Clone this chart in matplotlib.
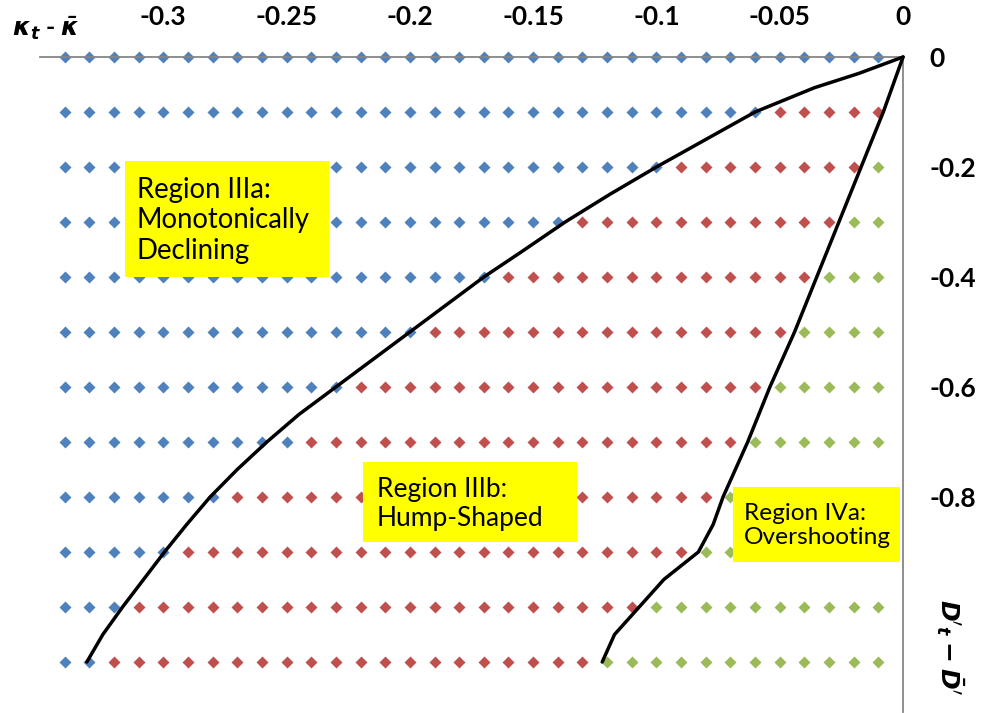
import matplotlib
matplotlib.use("Agg")
import matplotlib.pyplot as plt
from matplotlib.patches import Rectangle

# grid of kappa_t - kappa_bar values (columns) and D'_t - D'_bar values (rows)
kappa_grid = [-0.34, -0.33, -0.32, -0.31, -0.30, -0.29, -0.28, -0.27, -0.26, -0.25,
              -0.24, -0.23, -0.22, -0.21, -0.20, -0.19, -0.18, -0.17, -0.16, -0.15,
              -0.14, -0.13, -0.12, -0.11, -0.10, -0.09, -0.08, -0.07, -0.06, -0.05,
              -0.04, -0.03, -0.02, -0.01]
d_rows = [0.0, -0.1, -0.2, -0.3, -0.4, -0.5, -0.6, -0.7, -0.8, -0.9, -1.0, -1.1]

# per row: last column in region IIIa (blue), first column in region IVa (green)
last_blue = [-0.01, -0.06, -0.10, -0.14, -0.17, -0.20, -0.23, -0.25, -0.28, -0.30, -0.32, -0.33]
first_green = [None, None, -0.01, -0.02, -0.03, -0.04, -0.05, -0.06, -0.07, -0.08, -0.10, -0.12]

# boundary IIIa / IIIb
bound_a_x = [0.0, -0.018, -0.036, -0.06, -0.08, -0.10, -0.119, -0.137, -0.155, -0.17, -0.20,
             -0.23, -0.245, -0.258, -0.270, -0.281, -0.2905, -0.2995, -0.308, -0.3165,
             -0.3245, -0.331]
bound_a_y = [0.0, -0.030, -0.056, -0.1, -0.15, -0.2, -0.25, -0.3, -0.355, -0.4, -0.5,
             -0.6, -0.65, -0.7, -0.75, -0.8, -0.85, -0.9, -0.95, -1.0,
             -1.05, -1.1]
# boundary IIIb / IVa
bound_b_x = [0.0, -0.008, -0.017, -0.026, -0.035, -0.044, -0.054, -0.063, -0.073, -0.077,
             -0.083, -0.090, -0.097, -0.107, -0.117, -0.122]
bound_b_y = [0.0, -0.1, -0.2, -0.3, -0.4, -0.5, -0.6, -0.7, -0.8, -0.85,
             -0.9, -0.925, -0.95, -1.0, -1.05, -1.1]

xtick_vals = [-0.3, -0.25, -0.2, -0.15, -0.1, -0.05, 0]
xtick_labels = ['-0.3', '-0.25', '-0.2', '-0.15', '-0.1', '-0.05', '0']
ytick_vals = [0, -0.2, -0.4, -0.6, -0.8]
ytick_labels = ['0', '-0.2', '-0.4', '-0.6', '-0.8']

BLUE = '#4F81BD'
RED = '#C0504D'
GREEN = '#9BBB59'

plt.rcParams['font.family'] = ['Lato', 'DejaVu Sans']
plt.rcParams['mathtext.fontset'] = 'dejavusans'

fig = plt.figure(figsize=(9.82, 7.13), dpi=100)
ax = fig.add_axes([0.0407, 0.0021, 0.8789, 0.918])
ax.set_xlim(-0.35, 0)
ax.set_ylim(-1.19, 0)

pts = {BLUE: ([], []), RED: ([], []), GREEN: ([], [])}
for y, lb, fg in zip(d_rows, last_blue, first_green):
    for x in kappa_grid:
        if x <= lb + 1e-9:
            c = BLUE
        elif fg is not None and x >= fg - 1e-9:
            c = GREEN
        else:
            c = RED
        pts[c][0].append(x)
        pts[c][1].append(y)

for c, (xs, ys) in pts.items():
    ax.plot(xs, ys, ls='none', marker='D', ms=6.3, color=c, mec='none',
            clip_on=False, zorder=2)

ax.plot(bound_a_x, bound_a_y, color='black', lw=2.5, clip_on=False, zorder=3,
        solid_capstyle='round', solid_joinstyle='round')
ax.plot(bound_b_x, bound_b_y, color='black', lw=2.5, clip_on=False, zorder=3,
        solid_capstyle='round', solid_joinstyle='round')

# region labels
boxes = [
    ((-0.3156, -0.400), 0.0830, 0.211, -0.3108, -0.297, 'Region IIIa:\nMonotonically\nDeclining', 19.8),
    ((-0.2188, -0.882), 0.0867, 0.146, -0.2135, -0.812, 'Region IIIb:\nHump-Shaped', 19.0),
    ((-0.0689, -0.918), 0.0677, 0.136, -0.0644, -0.852, 'Region IVa:\nOvershooting', 17.6),
]
for (x0, y0), w, h, tx, ty, txt, fs in boxes:
    ax.add_patch(Rectangle((x0, y0), w, h, facecolor='#FFFF00', edgecolor='none', zorder=4))
    ax.text(tx, ty, txt, ha='left', va='center', fontsize=fs, zorder=5,
            linespacing=1.2, color='black')

for s in ['left', 'bottom']:
    ax.spines[s].set_visible(False)
for s in ['top', 'right']:
    ax.spines[s].set_color('#868686')
    ax.spines[s].set_linewidth(1.3)

ax.xaxis.tick_top()
ax.yaxis.tick_right()
ax.set_xticks(xtick_vals)
ax.set_xticklabels(xtick_labels, fontweight='bold', fontsize=19)
ax.set_yticks(ytick_vals)
ax.set_yticklabels(ytick_labels, fontweight='bold', fontsize=19)
ax.tick_params(axis='x', length=0, pad=20)
ax.tick_params(axis='y', length=0, pad=19)

fig.text(12 / 982, 1 - 28 / 713, r'$\mathbfit{\kappa}_{\mathbfit{t}}$ - $\mathbfit{\bar{\kappa}}$',
         ha='left', va='center', fontsize=18, fontweight='bold')
fig.text(950 / 982, 1 - 647 / 713, r"$\mathbfit{D}'_{\mathbfit{t}}$ $\mathbf{-}$ $\mathbfit{\bar{D}}'$",
         ha='center', va='center', fontsize=18, fontweight='bold', rotation=270)

fig.savefig('out.png', dpi=100)
